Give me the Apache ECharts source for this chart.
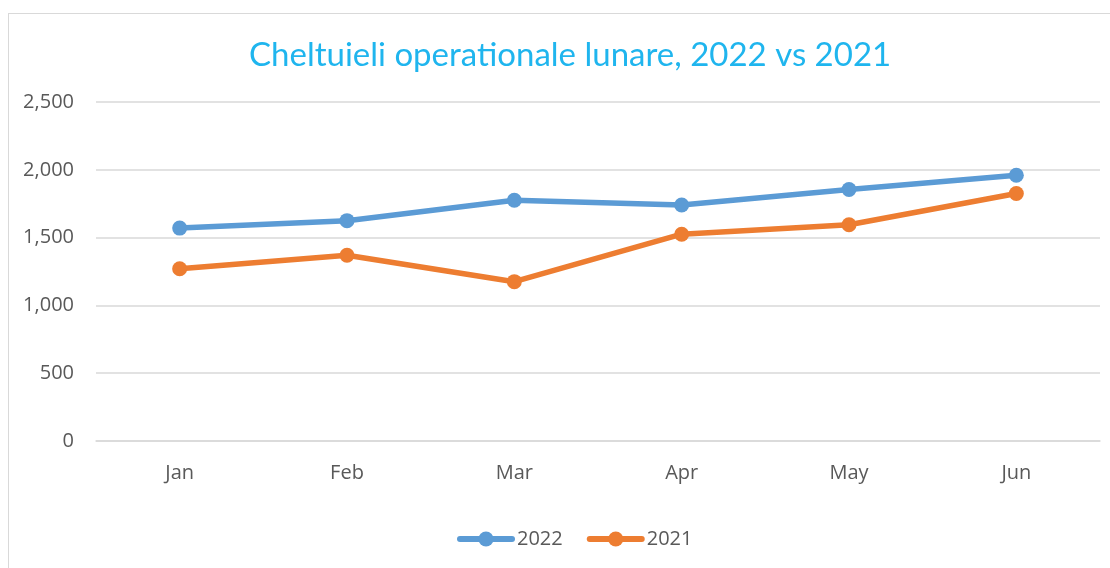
<!DOCTYPE html>
<html>
<head>
<meta charset="utf-8">
<script src="https://cdn.jsdelivr.net/npm/echarts@6/dist/echarts.min.js"></script>
<style>
  html, body { margin: 0; padding: 0; background: #fff; }
  #frame { position: absolute; left: 8px; top: 13px; width: 1120px; height: 600px; border: 1px solid #d9d9d9; }
  #chart { position: absolute; left: 0; top: 0; width: 1110px; height: 568px; }
</style>
</head>
<body>
<div id="frame"></div>
<div id="chart"></div>
<script>
// monthly data
const months = ["Jan", "Feb", "Mar", "Apr", "May", "Jun"];
const values2022 = [1570, 1625, 1775, 1740, 1855, 1960];
const values2021 = [1270, 1370, 1175, 1525, 1595, 1825];

const labelFont = "'Open Sans', 'Noto Sans', sans-serif";

const chart = echarts.init(document.getElementById("chart"));

function seriesOf(name, data, color) {
  return {
    name: name,
    type: "line",
    data: data,
    symbol: "circle",
    symbolSize: 15,
    lineStyle: { width: 5.5, color: color, cap: "round" },
    itemStyle: { color: color },
    animation: false,
  };
}

chart.setOption({
  backgroundColor: "transparent",
  title: {
    text: "Cheltuieli operationale lunare, 2022 vs 2021",
    left: 244,
    top: 34,
    textStyle: {
      color: "#1fb5ee",
      fontSize: 33,
      fontWeight: "normal",
      fontFamily: "Lato, 'Open Sans', sans-serif",
    },
  },
  legend: {
    bottom: 14,
    left: 452,
    itemWidth: 52,
    itemHeight: 19,
    itemGap: 24,
    lineStyle: { width: 6, cap: "round" },
    textStyle: { color: "#595959", fontSize: 20, fontFamily: labelFont },
    data: ["2022", "2021"],
  },
  grid: { left: 96, right: 10, top: 102, bottom: 127 },
  xAxis: {
    type: "category",
    data: months,
    boundaryGap: true,
    axisLine: { lineStyle: { color: "#d9d9d9", width: 1.5 } },
    axisTick: { show: false },
    axisLabel: { color: "#595959", fontSize: 20, margin: 22, fontFamily: labelFont },
  },
  yAxis: {
    type: "value",
    min: 0,
    max: 2500,
    interval: 500,
    axisLine: { show: false },
    axisTick: { show: false },
    splitLine: { lineStyle: { color: "#d9d9d9", width: 1.5 } },
    axisLabel: {
      color: "#595959",
      fontSize: 20,
      margin: 22,
      fontFamily: labelFont,
      formatter: (v) => v.toLocaleString("en-US"),
    },
  },
  series: [
    seriesOf("2022", values2022, "#5b9bd5"),
    seriesOf("2021", values2021, "#ed7d31"),
  ],
});
</script>
</body>
</html>
